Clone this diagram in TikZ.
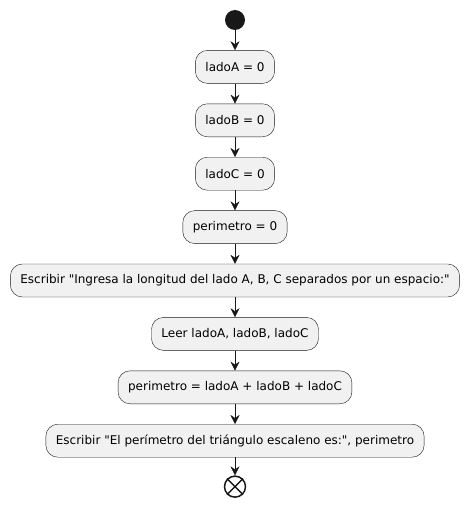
\documentclass[tikz,border=0pt]{standalone}
\usepackage{fontspec}
\setmainfont{DejaVu Sans}[Ligatures=TeXOff]
\usetikzlibrary{positioning,arrows.meta}
\definecolor{boxfill}{HTML}{F1F1F1}
\definecolor{boxline}{HTML}{181818}
\begin{document}
\begin{tikzpicture}[x=1pt, y=1pt, node distance=20pt,
		every node/.style={font=\fontsize{12}{14}\selectfont},
		action/.style={
			draw=boxline,
			fill=boxfill,
			rounded corners=12pt,
			minimum height=33pt,
			inner xsep=10pt},
		startdot/.style={
			circle,
			fill=boxline,
			minimum size=20pt,
			inner sep=0pt},
		stopdot/.style={
			circle,
			draw=boxline,
			line width=1.5pt,
			minimum size=21pt,
			inner sep=0pt},
		flow/.style={
			draw=boxline,
			-{Stealth[length=9pt,width=9pt,inset=3pt]}}]

		\useasboundingbox (0,0) rectangle (470,-511);

		\node (start) [startdot] at (235,-20) {};
		\node (setA) [action, below=of start] {ladoA = 0};
		\node (setB) [action, below=of setA] {ladoB = 0};
		\node (setC) [action, below=of setB] {ladoC = 0};
		\node (setP) [action, below=of setC] {perimetro = 0};
		\node (ask) [action, below=of setP] {Escribir "Ingresa la longitud del lado A, B, C separados por un espacio:"};
		\node (read) [action, below=of ask] {Leer ladoA, ladoB, ladoC};
		\node (calc) [action, below=of read] {perimetro = ladoA + ladoB + ladoC};
		\node (show) [action, below=of calc] {Escribir "El perímetro del triángulo escaleno es:", perimetro};
		\node (stop) [stopdot, below=18pt of show] {};
		\draw [boxline, line width=1.5pt] (stop.45) -- (stop.225) (stop.135) -- (stop.315);

		\draw [flow] (start) -- (setA);
		\draw [flow] (setA) -- (setB);
		\draw [flow] (setB) -- (setC);
		\draw [flow] (setC) -- (setP);
		\draw [flow] (setP) -- (ask);
		\draw [flow] (ask) -- (read);
		\draw [flow] (read) -- (calc);
		\draw [flow] (calc) -- (show);
		\draw [flow] (show) -- (stop);
	\end{tikzpicture}
\end{document}
